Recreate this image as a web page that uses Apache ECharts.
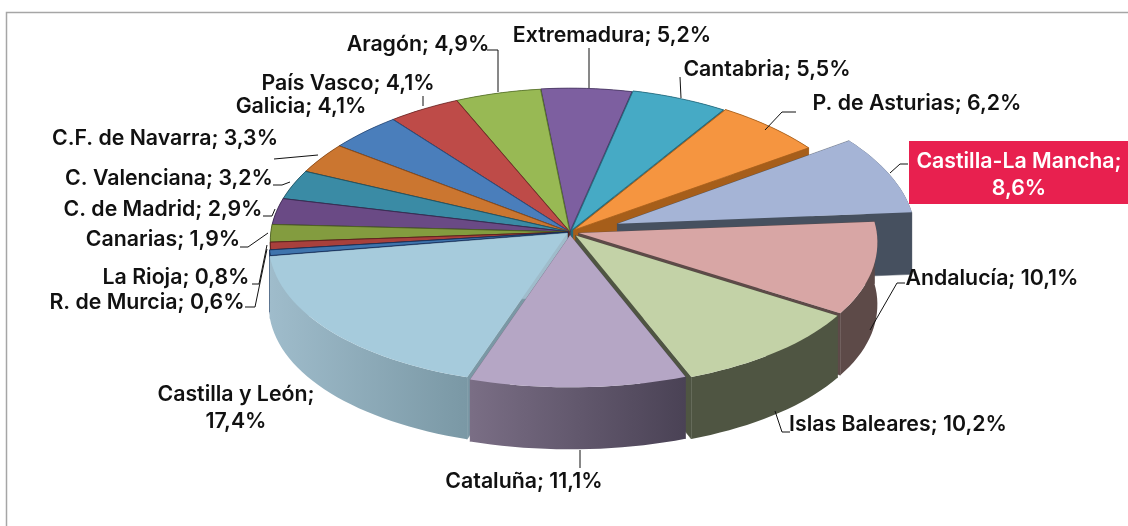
<!DOCTYPE html>
<html><head><meta charset="utf-8">
<style>html,body{margin:0;padding:0;background:#fff}#c{width:1128px;height:526px}</style>
<script src="https://cdn.jsdelivr.net/npm/echarts@6/dist/echarts.min.js"></script>
</head><body><div id="c"></div>
<script>
const categories = ['Castilla-La Mancha','Andalucía','Islas Baleares','Cataluña','Castilla y León','R. de Murcia','La Rioja','Canarias','C. de Madrid','C. Valenciana','C.F. de Navarra','Galicia','País Vasco','Aragón','Extremadura','Cantabria','P. de Asturias'];
const shares = [8.6,10.1,10.2,11.1,17.4,0.6,0.8,1.9,2.9,3.2,3.3,4.1,4.1,4.9,5.2,5.5,6.2];
const topColors = ['#a5b4d6','#d8a6a5','#c3d2a7','#b5a6c5','#a6cbdc','#3f74ad','#a8403c','#839c3f','#6a4a85','#3a8ba5','#cb7630','#4a7ebb','#be4b48','#98b954','#7d5fa0','#46aac5','#f59540'];
const wallLeft = ['#46505f','#5d4a48','#4f5542','#7a6e85','#9fbccb','#16305a','#5a1f1d','#4a5a22','#3a2850','#1f5060','#8a4a18','#2a4a78','#6f2a28','#55702a','#453360','#256a7c','#a65e1a'];
const wallRight = ['#46505f','#5d4a48','#4f5542','#4a4255','#7a98a5','#16305a','#5a1f1d','#4a5a22','#3a2850','#1f5060','#8a4a18','#2a4a78','#6f2a28','#55702a','#453360','#256a7c','#a65e1a'];
const explode = [0.17,0.03,0.03,0.022,0.012,0.008,0.004,0.004,0.004,0.004,0.004,0.004,0.004,0.004,0.006,0.012,0.018];
const startAngle = 54.5;

const CX=570, CY=232, RX=298, RY_BACK=143, RY_FRONT=152, DEPTH=62, PERSP=0.06;
const rad=a=>a*Math.PI/180;
function proj(x,y){ // disc coordinates: x right, y toward viewer
  const s=1+PERSP*y;
  return [CX+RX*x*s, CY+y*(y<0?RY_BACK:RY_FRONT)];
}
function slicePoint(th,off,r){ const p=[off[0]+r*Math.sin(rad(th)), off[1]-r*Math.cos(rad(th))]; return proj(p[0],p[1]); }

let run=startAngle;
const slices=shares.map((v,i)=>{ const a0=run, a1=run+v*3.6; run=a1; const m=(a0+a1)/2;
  return {i,a0,a1,m,off:[explode[i]*Math.sin(rad(m)),-explode[i]*Math.cos(rad(m))]}; });
const paintOrder=slices.slice().sort((a,b)=>(-Math.cos(rad(a.m)))-(-Math.cos(rad(b.m)))).map(s=>s.i);
const rank={}; paintOrder.forEach((id,k)=>rank[id]=k);

const labelItems=[
 {i:14,x:612,y:36,a:'center'},{i:13,x:418,y:45,a:'center'},{i:15,x:767,y:70,a:'center'},{i:16,x:917,y:104,a:'center'},
 {i:12,x:348,y:84,a:'center'},{i:11,x:301,y:107,a:'center'},{i:10,x:165,y:139,a:'center'},{i:9,x:169,y:179,a:'center'},
 {i:8,x:163,y:210,a:'center'},{i:7,x:163,y:240,a:'center'},{i:6,x:176,y:278,a:'center'},{i:5,x:147,y:303,a:'center'},
 {i:1,x:992,y:279,a:'center'},{i:2,x:898,y:425,a:'center'},{i:3,x:524,y:482,a:'center'}
];
const leaders=[
 [[487,50],[498,50],[498,92]],[[589,48],[589,88]],[[680,77],[681,98]],[[423,96],[423,106]],
 [[796,112],[782,112],[765,130]],[[908,164],[900,164],[890,173]],[[905,283],[897,283],[870,330]],
 [[790,432],[782,432],[775,411]],[[580,450],[580,468]],[[274,159],[318,155]],[[273,185],[282,185],[290,182]],
 [[263,216],[272,216],[275,209]],[[240,247],[248,247],[268,233]],[[252,284],[259,284],[267,245]],[[245,307],[255,307],[267,249]]
];
const TXT={fontFamily:'Inter',fontWeight:600,fontSize:21.3,fill:'#111'};

function renderSlice(params,api){
  const id=api.value(0), s=slices[id], z=rank[id]*10+10, kids=[];
  const arc=[]; const n=Math.max(4,Math.ceil((s.a1-s.a0)/2));
  for(let k=0;k<=n;k++) arc.push(slicePoint(s.a0+(s.a1-s.a0)*k/n,s.off,1));
  const apex=proj(s.off[0],s.off[1]);
  const down=p=>[p[0],p[1]+DEPTH];
  const face=(a,b,c)=>kids.push({type:'polygon',z2:z,shape:{points:[a,b,down(b),down(a)]},style:{fill:c,stroke:c,lineWidth:0.5}});
  // cut walls
  face(apex,arc[0],wallRight[id]); face(apex,arc[n],wallLeft[id]);
  // outer wall as horizontal gradient
  const low=arc.slice().reverse().map(down);
  const xs=arc.map(p=>p[0]); const x0=Math.min(...xs), x1=Math.max(...xs);
  kids.push({type:'polygon',z2:z+1,shape:{points:arc.concat(low)},style:{
    fill:new echarts.graphic.LinearGradient(x0,0,x1,0,[{offset:0,color:wallLeft[id]},{offset:1,color:wallRight[id]}],true)}});
  // top face
  kids.push({type:'polygon',z2:z+2,shape:{points:[apex].concat(arc)},style:{fill:topColors[id],stroke:wallRight[id],lineWidth:id>=5?0.8:0}});
  return {type:'group',children:kids};
}
function renderLabels(params,api){
  const kids=[];
  kids.push({type:'rect',z2:600,shape:{x:909,y:141,width:219,height:63},style:{fill:'#e8204f'}});
  kids.push({type:'text',z2:601,style:Object.assign({},TXT,{x:1019,y:162,text:categories[0]+';',fill:'#fff',align:'center',verticalAlign:'middle'})});
  kids.push({type:'text',z2:601,style:Object.assign({},TXT,{x:1019,y:189,text:fmt(shares[0]),fill:'#fff',align:'center',verticalAlign:'middle'})});
  kids.push({type:'text',z2:601,style:Object.assign({},TXT,{x:236,y:395,text:categories[4]+';',align:'center',verticalAlign:'middle'})});
  kids.push({type:'text',z2:601,style:Object.assign({},TXT,{x:236,y:422,text:fmt(shares[4]),align:'center',verticalAlign:'middle'})});
  labelItems.forEach(l=>kids.push({type:'text',z2:601,style:Object.assign({},TXT,{x:l.x,y:l.y,text:categories[l.i]+'; '+fmt(shares[l.i]),align:l.a,verticalAlign:'middle'})}));
  leaders.forEach(pts=>kids.push({type:'polyline',z2:500,shape:{points:pts},style:{stroke:'#111',lineWidth:1,fill:'none'}}));
  kids.push({type:'rect',z2:0,shape:{x:6.5,y:12.5,width:1140,height:540},style:{fill:'none',stroke:'#a6a6a6',lineWidth:1.5}});
  return {type:'group',children:kids};
}
function fmt(v){return v.toFixed(1).replace('.',',')+'%';}

const chart=echarts.init(document.getElementById('c'),null,{renderer:'canvas'});
chart.setOption({animation:false,backgroundColor:'#fff',series:[
 {type:'custom',coordinateSystem:'none',silent:true,z:2,renderItem:renderSlice,data:paintOrder.map(id=>[id,shares[id]])},
 {type:'custom',coordinateSystem:'none',silent:true,z:3,renderItem:renderLabels,data:[[0]]}
]});
</script></body></html>
